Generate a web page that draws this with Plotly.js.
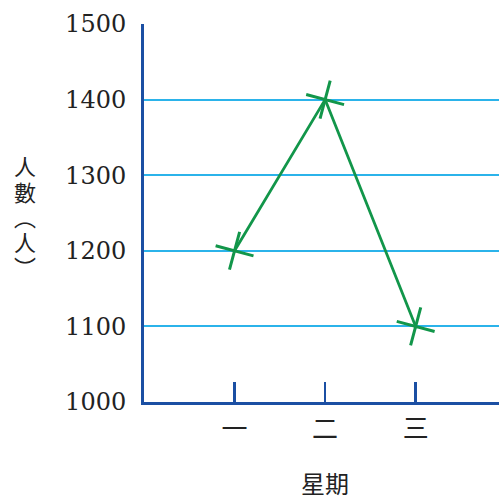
<!DOCTYPE html>
<html>
<head>
<meta charset="utf-8">
<script src="https://cdn.plot.ly/plotly-3.0.1.min.js"></script>
<style>html,body{margin:0;padding:0;background:#fff;}#chart{width:499px;height:499px;}</style>
</head>
<body>
<div id="chart"></div>
<script>
const days = ["一", "二", "三"];
const dayPos = [1, 2, 3];
const people = [1200, 1400, 1100];
const yTicks = [1000, 1100, 1200, 1300, 1400, 1500];
const xTitle = "星期";
const yTitleChars = ["人", "數", "︵", "人", "︶"];

const trace = {
  x: dayPos,
  y: people,
  type: "scatter",
  mode: "lines+markers",
  line: {color: "#12964a", width: 2.8},
  marker: {symbol: "cross-thin", size: 28, angle: 15, color: "#12964a", line: {color: "#12964a", width: 3}},
  cliponaxis: false,
  hoverinfo: "skip"
};

const cjk = "Noto Sans CJK TC";
const yTitleCenters = [165, 191, 216, 241, 266];
const annotations = [
  {text: xTitle, xref: "x", x: 2, yref: "paper", y: 0, yanchor: "middle", yshift: -80,
   showarrow: false, font: {family: cjk, size: 24, color: "#222"}}
];
yTitleChars.forEach((ch, i) => {
  annotations.push({text: ch, xref: "paper", x: 0, xanchor: "center", xshift: -119,
    yref: "paper", y: (402 - yTitleCenters[i]) / 378, yanchor: "middle",
    showarrow: false, font: {family: cjk, size: 22, color: "#222"}});
});

const layout = {
  width: 499, height: 499,
  margin: {l: 144, r: 0, t: 24, b: 97},
  paper_bgcolor: "#fff", plot_bgcolor: "#fff",
  showlegend: false,
  xaxis: {
    range: [0, 3.92],
    tickvals: dayPos, ticktext: days,
    ticks: "inside", ticklen: 20, tickwidth: 2.5, tickcolor: "#1b4fa3",
    showline: true, linecolor: "#1b4fa3", linewidth: 3,
    showgrid: false, zeroline: false,
    ticklabelstandoff: 2,
    tickfont: {family: cjk, size: 26, color: "#222"},
    fixedrange: true
  },
  yaxis: {
    range: [1000, 1500],
    tickvals: yTicks,
    ticks: "", showline: true, linecolor: "#1b4fa3", linewidth: 3,
    showgrid: true, gridcolor: "#2bb3ea", gridwidth: 2,
    zeroline: false,
    ticklabelstandoff: 10,
    tickfont: {family: "DejaVu Serif", size: 24, color: "#222"},
    fixedrange: true
  },
  annotations: annotations
};

Plotly.newPlot("chart", [trace], layout, {displayModeBar: false, staticPlot: true});
</script>
</body>
</html>
